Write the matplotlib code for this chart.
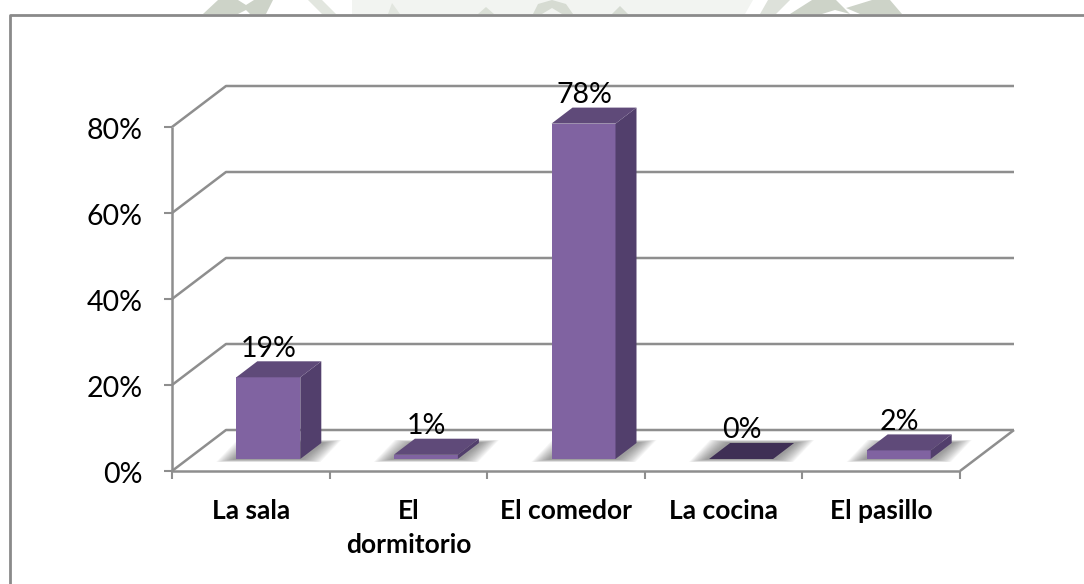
import matplotlib
matplotlib.use("Agg")
import matplotlib.pyplot as plt
from matplotlib.patches import Polygon
from matplotlib.lines import Line2D

categories = ["La sala", "El\ndormitorio", "El comedor", "La cocina", "El pasillo"]
values = [19, 1, 78, 0, 2]
labels = ["19%", "1%", "78%", "0%", "2%"]
ticks = [0, 20, 40, 60, 80]
tick_labels = ["0%", "20%", "40%", "60%", "80%"]

W, H = 1084, 584
plt.rcParams['font.family'] = ['Lato', 'DejaVu Sans']
fig = plt.figure(figsize=(W/100, H/100), dpi=100, facecolor="white")

# faint watermark remnants above the chart frame (pixel coordinates, y down)
def wm(points, color):
    fig.add_artist(Polygon([(x/W, 1-y/H) for x, y in points], closed=True, fc=color, ec="none",
                           transform=fig.transFigure, zorder=0))
wm([(352, 0), (753, 0), (745, 14), (352, 14)], "#f2f4f1")
wm([(203, 14), (218, 0), (238, 0), (246, 5), (254, 0), (273, 0), (266, 14), (250, 14), (246, 10), (238, 14)], "#cdd3c8")
wm([(308, 0), (322, 0), (336, 14), (322, 14)], "#e2e6df")
wm([(388, 14), (392, 3), (400, 14)], "#e2e6df")
wm([(478, 14), (486, 7), (494, 14)], "#dadfd6")
wm([(533, 14), (538, 4), (552, 0), (566, 4), (573, 14), (562, 14), (552, 8), (542, 14)], "#d6dbd2")
wm([(612, 14), (620, 6), (628, 14)], "#d6dbd2")
wm([(760, 14), (768, 0), (790, 0), (776, 14)], "#dde1da")
wm([(790, 14), (812, 0), (836, 0), (850, 14), (835, 10), (822, 14)], "#cdd3c8")
wm([(846, 8), (872, 0), (890, 0), (902, 14), (860, 14)], "#cdd3c8")

# axes: x categories 0..5 at px 172..960; y percent 0..80 at px 471..127
ax = fig.add_axes([172/W, 1-471/H, (960-172)/W, (471-127)/H])
ax.set_xlim(0, 5); ax.set_ylim(0, 80); ax.axis("off")

px = 5/(960-172); py = 80/(471-127)
DX, DY = 54*px, 41*py          # full floor depth
BW = 64*px                      # bar face width
BDX, BDY = 21*px, 16*py         # bar depth
FX, FY = 17.5*px, 12*py         # front-face offset from the front floor edge
GRID = "#8e8e8e"
FRONT, TOP, SIDE = "#8063a1", "#5f4a79", "#523f6c"
ZTOP = "#3f2f55"

def L(xs, ys, lw=1.8, z=1, c=GRID):
    ax.add_line(Line2D(xs, ys, color=c, lw=lw, clip_on=False, zorder=z, solid_capstyle="butt"))

# back grid and side walls
for t in ticks:
    L([0, DX, 5+DX], [t, t+DY, t+DY])
L([5, 5+DX], [0, DY])
L([0, 5], [0, 0])
L([0, 0], [0, 80])
# ticks
for t in ticks:
    L([-8*px, 0], [t, t], lw=1.5)
for i in range(6):
    L([i, i], [0, -8*py], lw=1.5)
for t, s in zip(ticks, tick_labels):
    ax.text(-29*px, t-4.3*py, s, ha="right", va="center", fontsize=20.5, color="black", clip_on=False)

N = 14
for i, (v, cat, lab) in enumerate(zip(values, categories, labels)):
    x0 = i + 0.5 + FX - BW/2
    x1 = x0 + BW
    y0 = FY
    y1 = y0 + v
    # soft floor shadow: stacked, growing parallelograms
    for k in range(N):
        f = 1 - k/(N-1)
        ex, ey = (3 + 17*f)*px, (0.5 + 2.5*f)*py
        ax.add_patch(Polygon([(x0-ex, y0-ey), (x1+ex, y0-ey),
                              (x1+BDX+ex, y0+BDY+ey), (x0+BDX-ex, y0+BDY+ey)],
                             closed=True, fc="#4a4a4a", ec="none", alpha=0.05, zorder=2, clip_on=False))
    if v > 0:
        ax.add_patch(Polygon([(x0, y0), (x1, y0), (x1, y1), (x0, y1)], fc=FRONT, ec="none", zorder=3, clip_on=False))
        ax.add_patch(Polygon([(x1, y0), (x1+BDX, y0+BDY), (x1+BDX, y1+BDY), (x1, y1)], fc=SIDE, ec="none", zorder=3, clip_on=False))
    ax.add_patch(Polygon([(x0, y1), (x1, y1), (x1+BDX, y1+BDY), (x0+BDX, y1+BDY)],
                         fc=TOP if v > 0 else ZTOP, ec="none", zorder=3, clip_on=False))
    # value label
    ax.text((x0+x1)/2 + 0.5*px, y1+BDY-0.5*py, lab, ha="center", va="bottom", fontsize=20.5,
            color="black", zorder=5, clip_on=False)
    # category label
    ax.text(i+0.5, -28*py, cat, ha="center", va="top", fontsize=19, fontweight="bold",
            color="black", linespacing=1.5, clip_on=False)

# outer frame: only the top and left edges are visible in the reference
fig.add_artist(Line2D([10/W, 10/W, 1], [0, 1-15/H, 1-15/H], color="#8a8a8a", lw=2,
                      transform=fig.transFigure))

fig.savefig("out.png", dpi=100)
